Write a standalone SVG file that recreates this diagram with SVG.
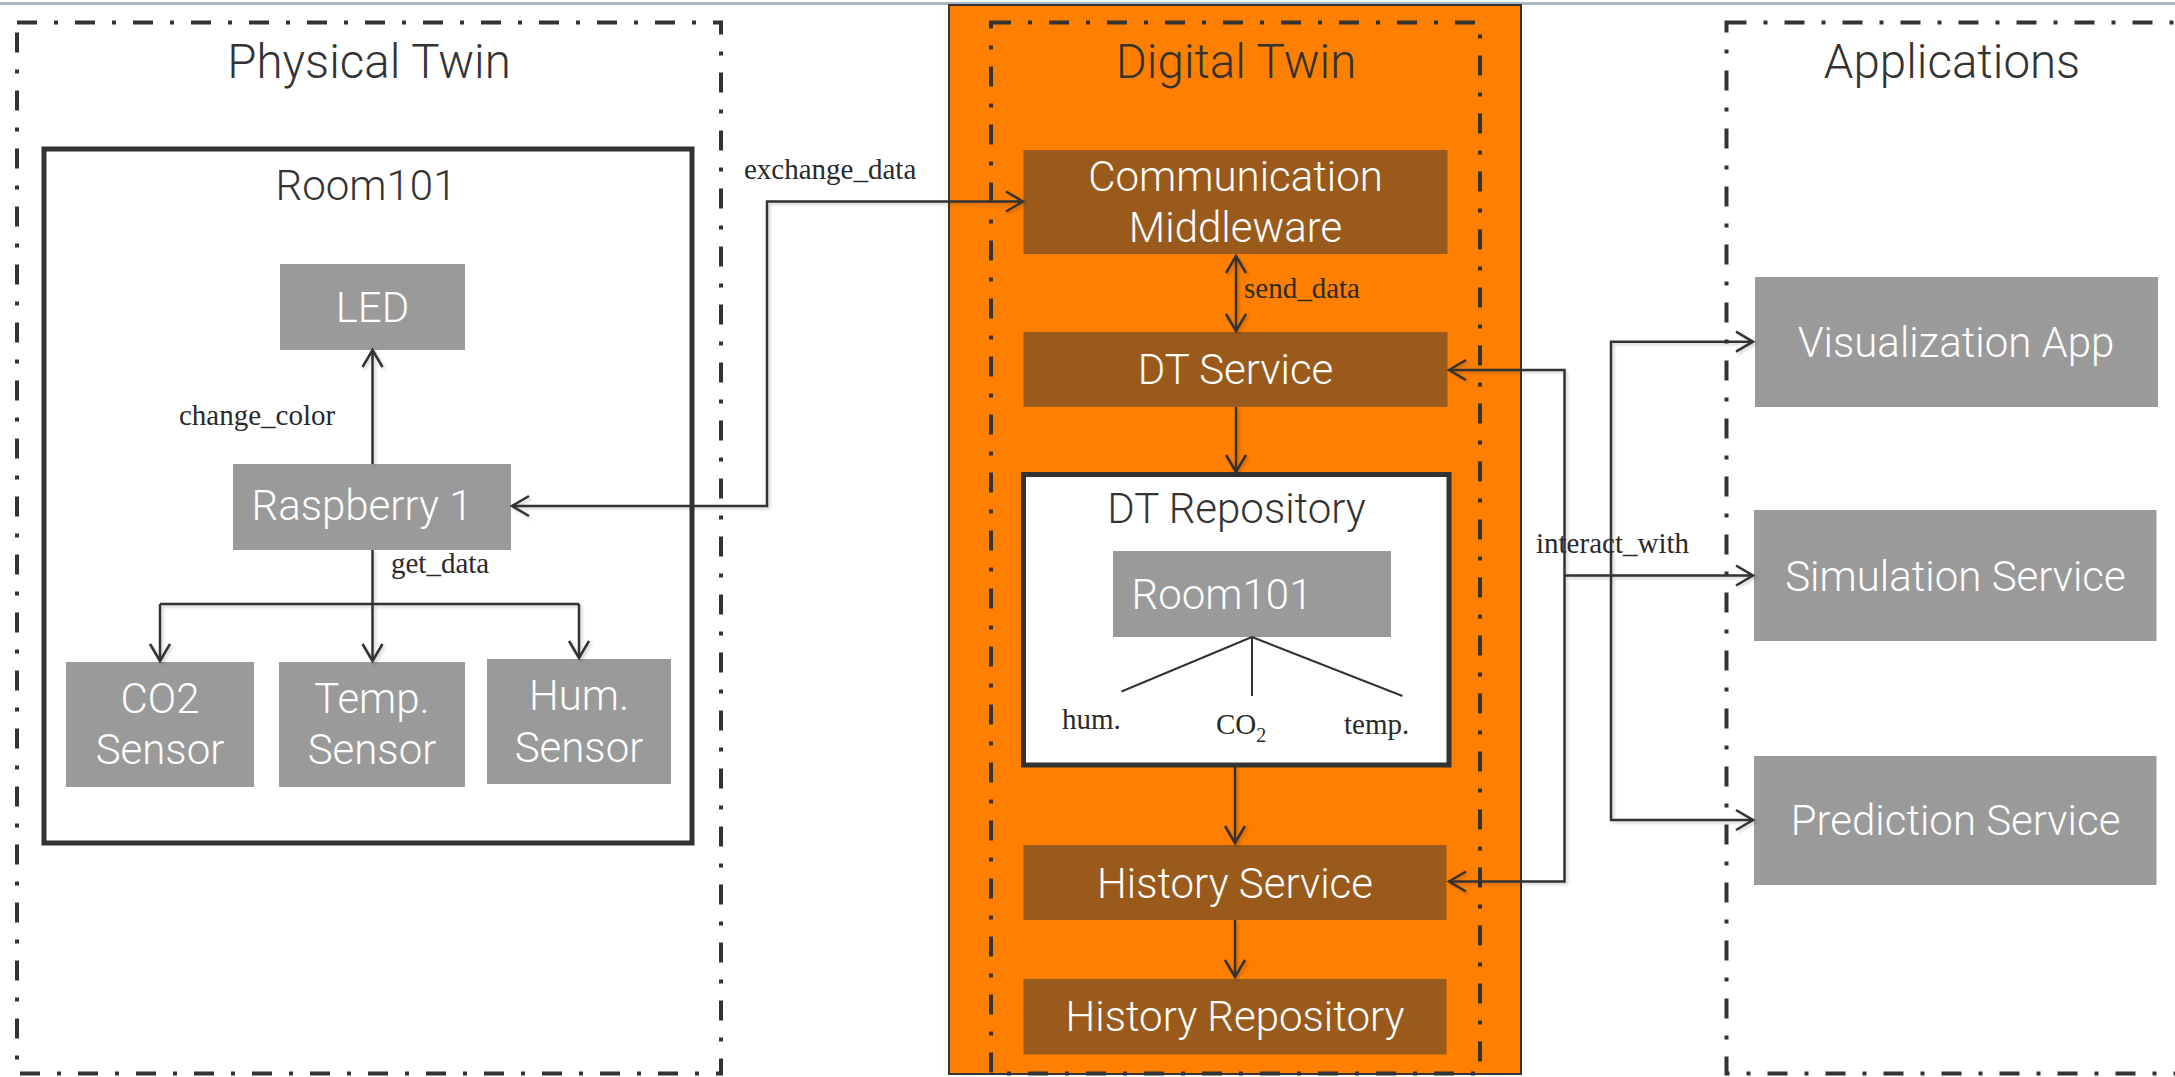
<svg xmlns="http://www.w3.org/2000/svg" width="2175" height="1077" viewBox="0 0 2175 1077">
  <style>
    .frame { fill: none; stroke: #333333; stroke-width: 4; stroke-dasharray: 20 17 4 17; }
    .title { font-family: "Roboto Light", Roboto, "Noto Sans", "Liberation Sans", sans-serif; font-weight: 300; font-size: 47.5px; fill: #333333; text-anchor: middle; }
    .subtitle { font-family: "Roboto Light", Roboto, "Noto Sans", "Liberation Sans", sans-serif; font-weight: 300; font-size: 42px; fill: #333333; text-anchor: middle; }
    .gray { fill: #9a9a9a; }
    .brown { fill: #9a5a1b; }
    .ntext { font-family: "Roboto Light", Roboto, "Noto Sans", "Liberation Sans", sans-serif; font-weight: 300; font-size: 42px; fill: #ffffff; text-anchor: middle; }
    .container { fill: none; stroke: #333333; stroke-width: 5; }
    .edge { fill: none; stroke: #333333; stroke-width: 2.5; }
    .tree { fill: none; stroke: #333333; stroke-width: 2; }
    .label { font-family: "Liberation Serif", "Times New Roman", serif; font-size: 29px; fill: #2a2a2a; }
  </style>
  <defs>
    <marker id="arrow" markerUnits="userSpaceOnUse" markerWidth="40" markerHeight="40" viewBox="-20 -20 40 40" refX="0" refY="0" orient="auto-start-reverse" overflow="visible">
      <path d="M-17,-10 L0,0 L-17,10" fill="none" stroke="#333333" stroke-width="2.5"/>
    </marker>
    <filter id="shadow" x="-5%" y="-5%" width="110%" height="110%">
      <feDropShadow dx="2" dy="2" stdDeviation="1.5" flood-color="#000000" flood-opacity="0.18"/>
    </filter>
  </defs>

  <rect x="0" y="0" width="2175" height="1077" fill="#ffffff"/>
  <!-- top rule -->
  <line x1="0" y1="3.5" x2="2175" y2="3.5" stroke="#aab6c3" stroke-width="3"/>

  <!-- digital twin band -->
  <rect id="dt-band" x="949" y="5" width="572" height="1069" fill="#ff7f00" stroke="#333333" stroke-width="2"/>

  <!-- swimlane frames -->
  <g id="physical-twin">
    <rect class="frame" x="17" y="22.5" width="704" height="1051"/>
    <text class="title" x="369" y="77.5">Physical Twin</text>
  </g>
  <g id="digital-twin">
    <rect class="frame" x="991" y="22.5" width="489" height="1051"/>
    <text class="title" x="1236" y="77.5">Digital Twin</text>
  </g>
  <g id="applications">
    <rect class="frame" x="1726.5" y="22.5" width="520" height="1051"/>
    <text class="title" x="1952" y="77.5">Applications</text>
  </g>

  <!-- physical side -->
  <g id="room101">
    <rect class="container" x="44" y="149" width="648" height="694"/>
    <text class="subtitle" x="366" y="200">Room101</text>
  </g>
  <g id="led">
    <rect class="gray" x="280" y="264" width="185" height="86"/>
    <text class="ntext" x="372.5" y="322">LED</text>
  </g>
  <g id="raspberry">
    <rect class="gray" x="233" y="464" width="278" height="86"/>
    <text class="ntext" x="362" y="520">Raspberry 1</text>
  </g>
  <g id="co2-sensor">
    <rect class="gray" x="66" y="662" width="188" height="125"/>
    <text class="ntext" x="160" y="713">CO2</text>
    <text class="ntext" x="160" y="764">Sensor</text>
  </g>
  <g id="temp-sensor">
    <rect class="gray" x="279" y="662" width="186" height="125"/>
    <text class="ntext" x="372" y="713">Temp.</text>
    <text class="ntext" x="372" y="764">Sensor</text>
  </g>
  <g id="hum-sensor">
    <rect class="gray" x="487" y="659" width="184" height="125"/>
    <text class="ntext" x="579" y="710">Hum.</text>
    <text class="ntext" x="579" y="761.5">Sensor</text>
  </g>

  <!-- digital side -->
  <g id="middleware">
    <rect class="brown" x="1023.5" y="150" width="424" height="104"/>
    <text class="ntext" x="1235.5" y="190.5">Communication</text>
    <text class="ntext" x="1235.5" y="242">Middleware</text>
  </g>
  <g id="dt-service">
    <rect class="brown" x="1023.5" y="332" width="424" height="75"/>
    <text class="ntext" x="1235.5" y="384">DT Service</text>
  </g>
  <g id="dt-repository">
    <rect x="1023.5" y="474.5" width="425.5" height="290.5" fill="#ffffff" stroke="#333333" stroke-width="5"/>
    <text class="subtitle" x="1236.5" y="523">DT Repository</text>
    <g id="dt-room101">
      <rect class="gray" x="1113" y="551" width="278" height="86"/>
      <text class="ntext" x="1222" y="608.5">Room101</text>
    </g>
    <g id="dt-room101-props">
      <path class="tree" d="M1252,637 L1121.5,691.5 M1252,637 V696 M1252,637 L1402.5,696"/>
      <text class="label" x="1062" y="729">hum.</text>
      <text class="label" x="1216" y="733.5">CO<tspan font-size="20" dy="8">2</tspan></text>
      <text class="label" x="1344" y="733.5">temp.</text>
    </g>
  </g>
  <g id="history-service">
    <rect class="brown" x="1023.5" y="845" width="423" height="75"/>
    <text class="ntext" x="1235" y="898">History Service</text>
  </g>
  <g id="history-repository">
    <rect class="brown" x="1023.5" y="979" width="423" height="75.5"/>
    <text class="ntext" x="1235" y="1031">History Repository</text>
  </g>

  <!-- applications -->
  <g id="visualization-app">
    <rect class="gray" x="1755" y="277" width="403" height="130"/>
    <text class="ntext" x="1956" y="357">Visualization App</text>
  </g>
  <g id="simulation-service">
    <rect class="gray" x="1754" y="510" width="402.5" height="131"/>
    <text class="ntext" x="1955.5" y="591">Simulation Service</text>
  </g>
  <g id="prediction-service">
    <rect class="gray" x="1754" y="756" width="402.5" height="129"/>
    <text class="ntext" x="1955.5" y="835">Prediction Service</text>
  </g>

  <!-- connectors -->
  <g id="connectors" filter="url(#shadow)">
    <path class="edge" d="M372.5,464 V350" marker-end="url(#arrow)"/>
    <path class="edge" d="M372.5,550 V604 M160,604 H579"/>
    <path class="edge" d="M160,604 V661" marker-end="url(#arrow)"/>
    <path class="edge" d="M372.5,604 V661" marker-end="url(#arrow)"/>
    <path class="edge" d="M579,604 V658" marker-end="url(#arrow)"/>
    <path class="edge" d="M1023,201.5 H767 V506 H512" marker-start="url(#arrow)" marker-end="url(#arrow)"/>
    <path class="edge" d="M1236,256 V331" marker-start="url(#arrow)" marker-end="url(#arrow)"/>
    <path class="edge" d="M1236,407 V472" marker-end="url(#arrow)"/>
    <path class="edge" d="M1235,767 V843" marker-end="url(#arrow)"/>
    <path class="edge" d="M1235,920 V977" marker-end="url(#arrow)"/>
    <path class="edge" d="M1449,370 H1564.5 V881.5 H1449" marker-start="url(#arrow)" marker-end="url(#arrow)"/>
    <path class="edge" d="M1564.5,575.5 H1753" marker-end="url(#arrow)"/>
    <path class="edge" d="M1753,341.7 H1611 V820 H1753" marker-start="url(#arrow)" marker-end="url(#arrow)"/>
  </g>
  <g id="connector-labels">
    <text class="label" x="179" y="425">change_color</text>
    <text class="label" x="391" y="572.5">get_data</text>
    <text class="label" x="744" y="179">exchange_data</text>
    <text class="label" x="1244" y="298">send_data</text>
    <text class="label" x="1536" y="553">interact_with</text>
  </g>
</svg>
